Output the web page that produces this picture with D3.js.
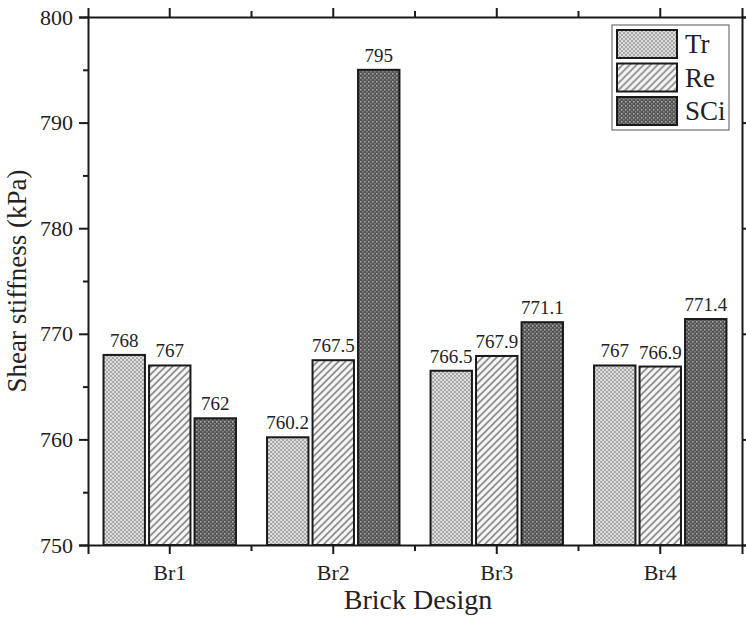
<!DOCTYPE html>
<html>
<head>
<meta charset="utf-8">
<script src="https://cdn.jsdelivr.net/npm/d3@7"></script>
<style>
  body { margin: 0; background: #fff; }
  svg { display: block; }
  svg text { font-family: "Liberation Serif", "Times New Roman", Tinos, "DejaVu Serif", serif !important; fill: #222; }
</style>
</head>
<body>
<svg id="chart" width="746" height="631"></svg>
<script>
// Shear stiffness per brick design and specimen type
const categories = ["Br1", "Br2", "Br3", "Br4"];
const seriesNames = ["Tr", "Re", "SCi"];
const trValues  = [768, 760.2, 766.5, 767];
const reValues  = [767, 767.5, 767.9, 766.9];
const sciValues = [762, 795, 771.1, 771.4];
const yTicks = [750, 760, 770, 780, 790, 800];
const yMinorTicks = [755, 765, 775, 785, 795];

const seriesValues = [trValues, reValues, sciValues];
const FONT = "'Liberation Serif', 'Times New Roman', serif";

const svg = d3.select("#chart").attr("font-family", FONT);
const margin = { left: 88, top: 17, right: 4, bottom: 86 };
const W = 746, H = 631;
const innerW = W - margin.left - margin.right;
const innerH = H - margin.top - margin.bottom;

// Fill patterns
const defs = svg.append("defs");

// Tr: fine light-grey checker
const pTr = defs.append("pattern").attr("id", "pat-tr")
  .attr("patternUnits", "userSpaceOnUse").attr("width", 4).attr("height", 4);
pTr.append("rect").attr("width", 4).attr("height", 4).attr("fill", "#dcdcdc");
pTr.append("rect").attr("width", 2).attr("height", 2).attr("fill", "#a8a8a8");
pTr.append("rect").attr("x", 2).attr("y", 2).attr("width", 2).attr("height", 2).attr("fill", "#a8a8a8");

// Re: diagonal hatching on white
const pRe = defs.append("pattern").attr("id", "pat-re")
  .attr("patternUnits", "userSpaceOnUse").attr("width", 7).attr("height", 7);
pRe.append("rect").attr("width", 7).attr("height", 7).attr("fill", "#f4f4f4");
pRe.append("path").attr("d", "M-1,8 L8,-1 M-4,4 L4,-4 M3,11 L11,3")
  .attr("stroke", "#8a8a8a").attr("stroke-width", 1.6);

// SCi: dark grey with light dots
const pSci = defs.append("pattern").attr("id", "pat-sci")
  .attr("patternUnits", "userSpaceOnUse").attr("width", 4).attr("height", 4);
pSci.append("rect").attr("width", 4).attr("height", 4).attr("fill", "#555");
pSci.append("rect").attr("x", 0).attr("y", 0).attr("width", 1.5).attr("height", 1.5).attr("fill", "#b0b0b0");
pSci.append("rect").attr("x", 2).attr("y", 2).attr("width", 1.5).attr("height", 1.5).attr("fill", "#8a8a8a");

const fills = { Tr: "url(#pat-tr)", Re: "url(#pat-re)", SCi: "url(#pat-sci)" };

const x = d3.scaleBand().domain(categories).range([0, innerW]).paddingInner(0).paddingOuter(0);
const groupW = x.bandwidth() * 0.81;
const xs = d3.scaleBand().domain(seriesNames).range([0, groupW]).paddingInner(0.09).paddingOuter(0);
const y = d3.scaleLinear().domain([750, 800]).range([innerH, 0]);

const g = svg.append("g").attr("transform", `translate(${margin.left},${margin.top})`);

// Bars
const rows = [];
categories.forEach((c, i) => {
  seriesNames.forEach((s, j) => rows.push({ cat: c, series: s, value: seriesValues[j][i] }));
});

const offset = (x.bandwidth() - groupW) / 2;
g.selectAll("rect.bar").data(rows).join("rect")
  .attr("class", "bar")
  .attr("x", d => x(d.cat) + offset + xs(d.series))
  .attr("y", d => y(d.value))
  .attr("width", xs.bandwidth())
  .attr("height", d => y(750) - y(d.value))
  .attr("fill", d => fills[d.series])
  .attr("stroke", "#1a1a1a").attr("stroke-width", 2);

// Value labels
g.selectAll("text.val").data(rows).join("text")
  .attr("class", "val")
  .attr("x", d => x(d.cat) + offset + xs(d.series) + xs.bandwidth() / 2)
  .attr("y", d => y(d.value) - 8)
  .attr("text-anchor", "middle")
  .attr("font-size", 19)
  .text(d => String(d.value));

// Axes
const axisStyle = sel => {
  sel.attr("font-family", FONT);
  sel.select(".domain").attr("stroke", "#1a1a1a").attr("stroke-width", 2);
  sel.selectAll(".tick line").attr("stroke", "#1a1a1a").attr("stroke-width", 2);
  sel.selectAll("text").attr("fill", "#222");
};

// Left axis
g.append("g").call(d3.axisLeft(y).tickValues(yTicks).tickSize(9).tickPadding(6).tickFormat(d3.format("d")))
  .call(axisStyle).call(s => s.selectAll("text").attr("font-size", 22));
g.append("g").call(d3.axisLeft(y).tickValues(yMinorTicks).tickSize(5).tickFormat(""))
  .call(axisStyle).call(s => s.select(".domain").remove());

// Right axis
g.append("g").attr("transform", `translate(${innerW},0)`)
  .call(d3.axisRight(y).tickValues(yTicks).tickSize(9).tickFormat(""))
  .call(axisStyle);

// Bottom axis
const bounds = categories.slice(1).map(c => x(c));
g.append("g").attr("transform", `translate(0,${innerH})`)
  .call(d3.axisBottom(x).tickSize(9).tickPadding(10))
  .call(axisStyle).call(s => s.selectAll("text").attr("font-size", 22));
g.append("g").attr("transform", `translate(0,${innerH})`)
  .selectAll("line").data(bounds).join("line")
  .attr("x1", d => d).attr("x2", d => d).attr("y1", 0).attr("y2", 6)
  .attr("stroke", "#1a1a1a").attr("stroke-width", 2);

// Top axis
g.append("g")
  .call(d3.axisTop(x).tickSize(9).tickFormat(""))
  .call(axisStyle);
g.append("g")
  .selectAll("line").data(bounds).join("line")
  .attr("x1", d => d).attr("x2", d => d).attr("y1", 0).attr("y2", -6)
  .attr("stroke", "#1a1a1a").attr("stroke-width", 2);

// Axis titles
svg.append("text")
  .attr("transform", `translate(20,${margin.top + innerH / 2}) rotate(-90)`)
  .attr("text-anchor", "middle").attr("dominant-baseline", "middle")
  .attr("font-size", 27)
  .text("Shear stiffness (kPa)");

svg.append("text")
  .attr("x", margin.left + innerW / 2 + 3).attr("y", 609)
  .attr("text-anchor", "middle")
  .attr("font-size", 28)
  .text("Brick Design");

// Legend
const lg = svg.append("g").attr("transform", "translate(612,25)");
lg.append("rect").attr("width", 117).attr("height", 105)
  .attr("fill", "#fff").attr("stroke", "#555").attr("stroke-width", 1);
seriesNames.forEach((s, i) => {
  const row = lg.append("g").attr("transform", `translate(5,${5 + i * 33.5})`);
  row.append("rect").attr("width", 60).attr("height", 28)
    .attr("fill", fills[s]).attr("stroke", "#1a1a1a").attr("stroke-width", 2);
  row.append("text").attr("x", 68).attr("y", 23)
    .attr("font-size", 27).text(s);
});
</script>
</body>
</html>
